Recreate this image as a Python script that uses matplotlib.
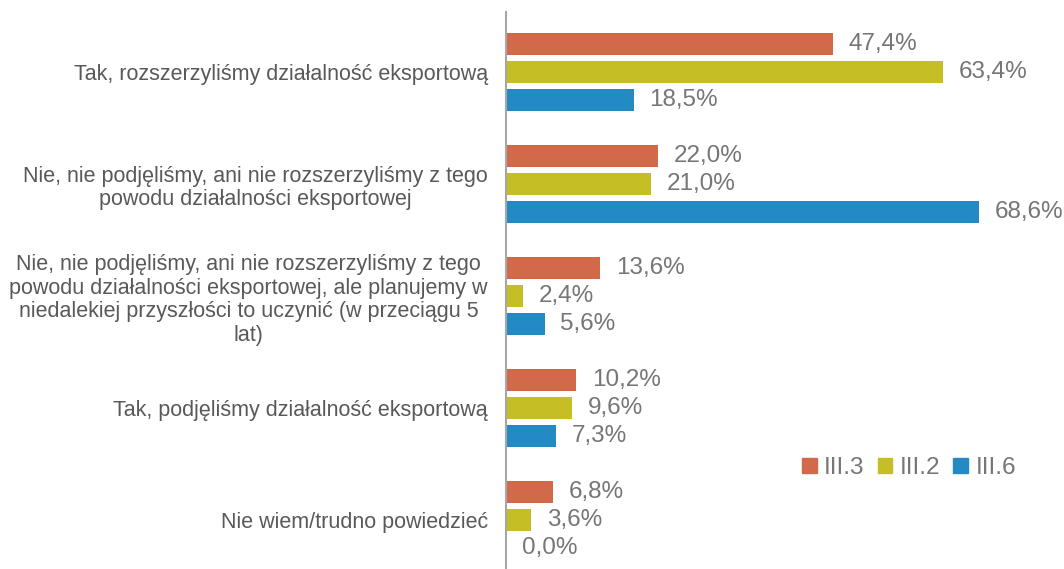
import matplotlib
matplotlib.use("Agg")
import matplotlib.pyplot as plt
from matplotlib.patches import Patch
import numpy as np

# chart data
categories = [
    "Tak, rozszerzyliśmy działalność eksportową",
    "Nie, nie podjęliśmy, ani nie rozszerzyliśmy z tego\npowodu działalności eksportowej",
    "Nie, nie podjęliśmy, ani nie rozszerzyliśmy z tego\npowodu działalności eksportowej, ale planujemy w\nniedalekiej przyszłości to uczynić (w przeciągu 5\nlat)",
    "Tak, podjęliśmy działalność eksportową",
    "Nie wiem/trudno powiedzieć",
]
series_names = ["III.3", "III.2", "III.6"]
values_iii3 = [47.4, 22.0, 13.6, 10.2, 6.8]
values_iii2 = [63.4, 21.0, 2.4, 9.6, 3.6]
values_iii6 = [18.5, 68.6, 5.6, 7.3, 0.0]
colors = ["#D2694B", "#C5BE25", "#238AC4"]

text_gray = "#767676"
plt.rcParams['font.family'] = ['Liberation Sans', 'DejaVu Sans']

fig = plt.figure(figsize=(10.64, 5.69), dpi=100)
ax = fig.add_axes([506 / 1064, 0.0, 558 / 1064, 557 / 569])

ind = np.arange(len(categories))
bar_h = 0.196
offsets = [-0.25, 0.0, 0.25]

for vals, off, col in zip([values_iii3, values_iii2, values_iii6], offsets, colors):
    ax.barh(ind + off, vals, height=bar_h, color=col)
    for i, v in enumerate(vals):
        label = f"{v:.1f}%".replace(".", ",")
        # labels sit a bit right of the bar end
        ax.text(v + 2.3, i + off, label, va="center", ha="left",
                fontsize=17.5, color=text_gray)

ax.set_xlim(0, 80.9)
ax.set_ylim(4.4375, -0.536)

ax.set_yticks(ind)
ax.set_yticklabels(categories, fontsize=15.5, color="#595959",
                   multialignment="center", linespacing=1.18)
ax.tick_params(axis="y", length=0, pad=13)
ax.set_xticks([])

for side in ["top", "right", "bottom"]:
    ax.spines[side].set_visible(False)
ax.spines["left"].set_color("#A6A6A6")
ax.spines["left"].set_linewidth(1.5)

# legend
handles = [Patch(color=c, label=n) for c, n in zip(colors, series_names)]
ax.legend(handles=handles, loc="center", bbox_to_anchor=(0.722, 0.181),
          ncol=3, frameon=False, fontsize=17.5, labelcolor=text_gray,
          handlelength=0.6, handleheight=0.6, handletextpad=0.3,
          columnspacing=0.55)

plt.savefig("out.png", dpi=100)
